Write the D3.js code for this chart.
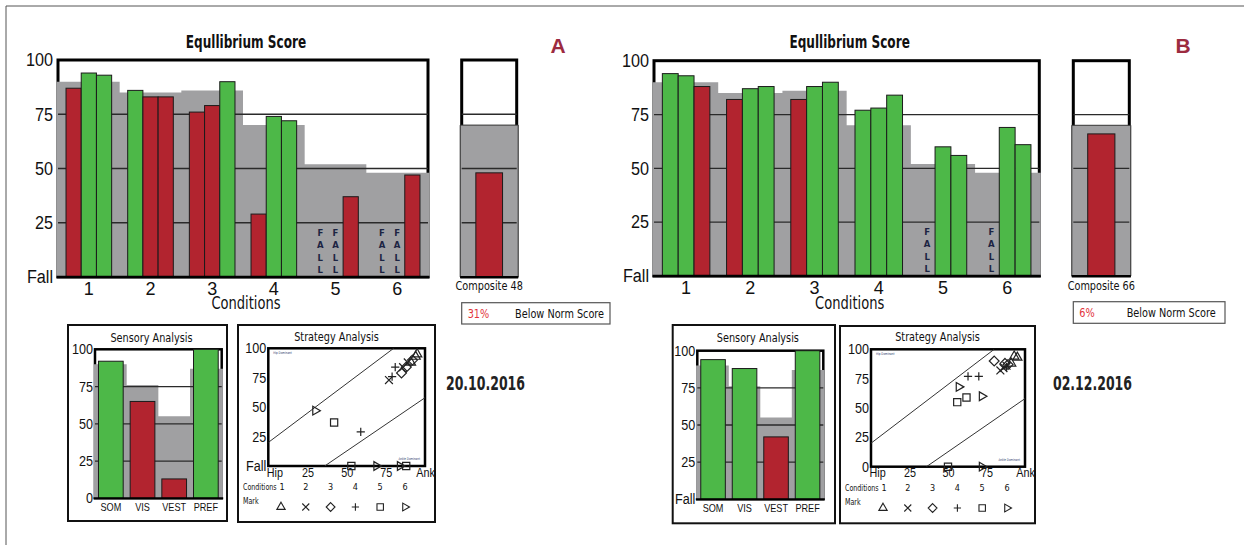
<!DOCTYPE html>
<html lang="en">
<head>
<meta charset="UTF-8">
<title>Equilibrium Score</title>
<script src="https://cdn.jsdelivr.net/npm/d3@7"></script>
<style>
  body { margin: 0; background: #fff; }
  svg { font-family: "Liberation Sans Narrow", "Arial Narrow", "DejaVu Sans Condensed", sans-serif; }
</style>
</head>
<body>
<script>
// ---- data ----
const conditions = [1, 2, 3, 4, 5, 6]
const trialIds = [0, 1, 2]
const eqNorm = [90, 85, 86, 70, 52, 48]
const eqA = [[87, 94, 93], [86, 83, 83], [76, 79, 90], [29, 74, 72], [null, null, 37], [null, null, 47]]
const eqB = [[94, 93, 88], [82, 87, 88], [82, 88, 90], [77, 78, 84], [null, 60, 56], [null, 69, 61]]
const compNorm = 70
const compA = 48
const compB = 66
const belowA = "31%"
const belowB = "6%"
const sensCats = ["SOM", "VIS", "VEST", "PREF"]
const sensNorm = [90, 76, 55, 87]
const sensA = [92, 65, 13, 100]
const sensB = [94, 88, 42, 100]
const scoreTicks = [0, 25, 50, 75, 100]
const gridTicks = [25, 50, 75]
const eqTickLabels = ["Fall", "25", "50", "75", "100"]
const sensLabelsA = ["0", "25", "50", "75", "100"]
const sensLabelsB = ["Fall", "25", "50", "75", "100"]
const stratLabelsA = ["Fall", "25", "50", "75", "100"]
const stratLabelsB = ["0", "25", "50", "75", "100"]
const stratXLabels = ["Hip", "25", "50", "75", "Ank"]
const hipLine = [[0, 20], [80, 100]]
const ankleLine = [[36, 0], [100, 58]]
// [strategy score, equilibrium score] per trial, one row per condition; falls sit on 0
const stratA = [
  [[91, 88], [95, 95], [94, 93]],
  [[77, 73], [89, 88], [86, 84]],
  [[85, 79], [88, 84], [92, 90]],
  [[59, 29], [79, 76], [81, 84]],
  [[53, 0], [88, 0], [42, 37]],
  [[69, 0], [84, 0], [30, 47]]
]
const stratB = [
  [[93, 94], [95, 93], [91, 88]],
  [[84, 82], [86, 84], [88, 86]],
  [[80, 90], [87, 88], [89, 87]],
  [[63, 77], [70, 77], [88, 85]],
  [[50, 0], [62, 59], [56, 55]],
  [[72, 0], [57, 68], [72, 60]]
]

// ---- layout ----
const panels = [
  {
    letter: "A", date: "20.10.2016", eq: eqA, comp: compA, below: belowA,
    sens: sensA, sensLabels: sensLabelsA, strat: stratA, stratLabels: stratLabelsA,
    main: {x0: 58, x1: 428, top: 60, bottom: 277},
    composite: {x0: 461.7, x1: 516.7},
    note: [461.7, 302.7, 148.3, 21.3],
    letterPos: [558, 53], datePos: [446, 390],
    sensBox: [68, 325, 159, 196], sensPlot: {x0: 95, x1: 221.7, top: 349.3, bottom: 498.3},
    stratBox: [238, 325, 197, 197], stratPlot: {x0: 268.3, x1: 425, top: 348.3, bottom: 466}
  },
  {
    letter: "B", date: "02.12.2016", eq: eqB, comp: compB, below: belowB,
    sens: sensB, sensLabels: sensLabelsB, strat: stratB, stratLabels: stratLabelsB,
    main: {x0: 654, x1: 1039.3, top: 60.7, bottom: 276},
    composite: {x0: 1073.3, x1: 1129.3},
    note: [1073.3, 301.7, 151.7, 21.6],
    letterPos: [1183, 53], datePos: [1053, 390],
    sensBox: [672.7, 325, 162.3, 198.3], sensPlot: {x0: 697.3, x1: 823.3, top: 350.7, bottom: 499.3},
    stratBox: [840, 326, 195, 197.3], stratPlot: {x0: 871, x1: 1025, top: 349.3, bottom: 466.7}
  }
]

const RED = "#b2242f", GREEN = "#4db848", GRAY = "#a0a0a2", INK = "#1b1b1b", MAROON = "#9c2b3f"

const svg = d3.select("body").append("svg")
  .attr("width", 1244).attr("height", 545)

svg.append("path").attr("d", "M6,545V6H1244")
  .attr("fill", "none").attr("stroke", "#555").attr("stroke-width", 1)

const colorFor = (v, norm) => v >= norm ? GREEN : RED

// white frame + stepped grey norm band + grid lines
function normChart(g, x, y, cats, norms, frameW, grayStroke) {
  const [xa, xb] = x.range()
  const gap = (x.step() - x.bandwidth()) / 2
  const n = cats.length
  g.append("rect")
    .attr("x", xa).attr("y", y(100))
    .attr("width", xb - xa).attr("height", y(0) - y(100))
    .attr("fill", "#fff").attr("stroke", "#000").attr("stroke-width", frameW)
  const pts = cats.map((c, i) => [i === 0 ? xa - frameW / 2 : x(c) - gap, norms[i]])
  pts.push([xb + frameW / 2, norms[n - 1]])
  const area = d3.area().curve(d3.curveStepAfter)
    .x(d => d[0]).y0(y(0)).y1(d => y(d[1]))
  g.append("path").attr("d", area(pts))
    .attr("fill", GRAY)
    .attr("stroke", grayStroke ? "#333" : "none").attr("stroke-width", 1)
  g.append("g").selectAll("line").data(gridTicks).join("line")
    .attr("x1", xa).attr("x2", xb)
    .attr("y1", d => y(d)).attr("y2", d => y(d))
    .attr("stroke", "#2a2a2a").attr("stroke-width", 1.3)
}

function baseline(g, x, y, w) {
  const [xa, xb] = x.range()
  g.append("line").attr("x1", xa - 1.5).attr("x2", xb + 1.5)
    .attr("y1", y(0)).attr("y2", y(0))
    .attr("stroke", "#000").attr("stroke-width", w)
}

function leftLabels(g, y, labels, size, pad) {
  g.append("g").call(d3.axisLeft(y).tickValues(scoreTicks).tickFormat((d, i) => labels[i]).tickSize(0).tickPadding(pad))
    .call(a => a.select(".domain").remove())
    .selectAll("text").attr("font-size", size).attr("fill", "#111").style("font-family", "inherit")
    .attr("data-sq", 0.9)
}

// marks per condition: triangle, times, diamond, plus, square, right triangle
const shapes = [d3.symbolTriangle2, d3.symbolTimes, d3.symbolDiamond2, d3.symbolPlus, d3.symbolSquare2, d3.symbolTriangle2]
const shapeSize = [62, 42, 62, 24, 66, 55]
const turn = k => k === 5 ? " rotate(90)" : ""

function drawPanel(P) {
  const g = svg.append("g")

  // ---- Equilibrium score ----
  const M = P.main
  const x = d3.scaleBand().domain(conditions).range([M.x0, M.x1]).paddingInner(0.26).paddingOuter(0.13)
  const t = d3.scaleBand().domain(trialIds).range([0, x.bandwidth()])
  const y = d3.scaleLinear().domain([0, 100]).range([M.bottom, M.top])
  const gm = g.append("g")
  normChart(gm, x, y, conditions, eqNorm, 3, false)

  const trials = conditions.flatMap((c, i) => trialIds.map(j => ({c, j, v: P.eq[i][j], norm: eqNorm[i]})))
  gm.append("g").selectAll("rect").data(trials.filter(d => d.v != null)).join("rect")
    .attr("x", d => x(d.c) + t(d.j)).attr("width", t.bandwidth())
    .attr("y", d => y(d.v)).attr("height", d => y(0) - y(d.v))
    .attr("fill", d => colorFor(d.v, d.norm)).attr("stroke", INK).attr("stroke-width", 1)

  const falls = gm.append("g").selectAll("text").data(trials.filter(d => d.v == null)).join("text")
    .attr("x", d => x(d.c) + t(d.j) + t.bandwidth() / 2)
    .attr("text-anchor", "middle")
    .attr("font-family", "DejaVu Sans, sans-serif").attr("font-weight", "bold")
    .attr("font-size", 8.5).attr("fill", "#1c2442")
  falls.selectAll("tspan").data(["F", "A", "L", "L"]).join("tspan")
    .attr("x", function() { return d3.select(this.parentNode).attr("x") })
    .attr("y", (d, k) => y(0) - 41 + k * 12.4)
    .text(d => d)

  baseline(gm, x, y, 2.5)
  leftLabels(gm.append("g").attr("transform", `translate(${M.x0},0)`), y, eqTickLabels, 18, 5)
  gm.append("g").attr("transform", `translate(0,${y(0)})`)
    .call(d3.axisBottom(x).tickSize(0).tickPadding(5))
    .call(a => a.select(".domain").remove())
    .selectAll("text").attr("font-size", 18).attr("fill", "#111").style("font-family", "inherit")
    .attr("data-sq", 1)
  gm.append("text").attr("x", (M.x0 + M.x1) / 2 + 3).attr("y", 309)
    .attr("text-anchor", "middle").attr("font-size", 17.5).attr("fill", "#111").text("Conditions")
  gm.append("text").attr("x", (M.x0 + M.x1) / 2 + 3).attr("y", 47.5)
    .attr("text-anchor", "middle").attr("font-size", 17).attr("font-weight", "bold").attr("fill", "#111")
    .attr("data-sq", 0.79)
    .text("Equllibrium Score")

  // ---- Composite ----
  const C = P.composite
  const xc = d3.scaleBand().domain(["Composite"]).range([C.x0, C.x1]).paddingOuter(0.53)
  const gc = g.append("g")
  normChart(gc, xc, y, ["Composite"], [compNorm], 3, true)
  gc.append("rect").datum(P.comp)
    .attr("x", xc("Composite")).attr("width", xc.bandwidth())
    .attr("y", d => y(d)).attr("height", d => y(0) - y(d))
    .attr("fill", d => colorFor(d, compNorm)).attr("stroke", INK).attr("stroke-width", 1)
  baseline(gc, xc, y, 2)
  gc.append("text").attr("x", (C.x0 + C.x1) / 2).attr("y", 290)
    .attr("text-anchor", "middle").attr("font-size", 13).attr("fill", "#111")
    .text(`Composite ${P.comp}`)
  const [nx, ny, nw, nh] = P.note
  gc.append("rect").attr("x", nx).attr("y", ny).attr("width", nw).attr("height", nh)
    .attr("fill", "#fff").attr("stroke", "#555").attr("stroke-width", 1.2)
  gc.append("text").attr("x", nx + 6).attr("y", ny + 15.5).attr("font-size", 13).attr("fill", "#e2333b").text(P.below)
  gc.append("text").attr("x", nx + 53.4).attr("y", ny + 15.5).attr("font-size", 13).attr("fill", "#111").text("Below Norm Score")

  g.append("text").attr("x", P.letterPos[0]).attr("y", P.letterPos[1])
    .attr("text-anchor", "middle").attr("font-family", "Liberation Sans, Arial, sans-serif")
    .attr("font-size", 21).attr("font-weight", "bold").attr("fill", MAROON)
    .attr("data-sq", 1).text(P.letter)

  // ---- Sensory analysis ----
  const S = P.sensPlot
  const [sx, sy, sw, sh] = P.sensBox
  const gs = g.append("g")
  gs.append("rect").attr("x", sx).attr("y", sy).attr("width", sw).attr("height", sh)
    .attr("fill", "#fff").attr("stroke", "#111").attr("stroke-width", 2)
  gs.append("text").attr("x", sx + sw / 2 + 4).attr("y", 341.7)
    .attr("text-anchor", "middle").attr("font-size", 13).attr("fill", "#111").text("Sensory Analysis")
  const xs = d3.scaleBand().domain(sensCats).range([S.x0, S.x1]).paddingInner(0.22).paddingOuter(0.11)
  const ys = d3.scaleLinear().domain([0, 100]).range([S.bottom, S.top])
  normChart(gs, xs, ys, sensCats, sensNorm, 2.5, false)
  gs.append("g").selectAll("rect").data(sensCats).join("rect")
    .attr("x", d => xs(d)).attr("width", xs.bandwidth())
    .attr("y", (d, i) => ys(P.sens[i])).attr("height", (d, i) => ys(0) - ys(P.sens[i]))
    .attr("fill", (d, i) => colorFor(P.sens[i], sensNorm[i])).attr("stroke", INK).attr("stroke-width", 1)
  baseline(gs, xs, ys, 2)
  leftLabels(gs.append("g").attr("transform", `translate(${S.x0},0)`), ys, P.sensLabels, 14, 2)
  gs.append("g").attr("transform", `translate(0,${ys(0)})`)
    .call(d3.axisBottom(xs).tickSize(0).tickPadding(5))
    .call(a => a.select(".domain").remove())
    .selectAll("text").attr("font-size", 11).attr("fill", "#111").style("font-family", "inherit")

  // ---- Strategy analysis ----
  const T = P.stratPlot
  const [bx, by, bw, bh] = P.stratBox
  const gt = g.append("g")
  gt.append("rect").attr("x", bx).attr("y", by).attr("width", bw).attr("height", bh)
    .attr("fill", "#fff").attr("stroke", "#111").attr("stroke-width", 2)
  gt.append("text").attr("x", bx + bw / 2).attr("y", 340.5)
    .attr("text-anchor", "middle").attr("font-size", 13).attr("fill", "#111").text("Strategy Analysis")
  const xt = d3.scaleLinear().domain([0, 100]).range([T.x0, T.x1])
  const yt = d3.scaleLinear().domain([0, 100]).range([T.bottom, T.top])
  const clipId = "clip" + P.letter
  gt.append("clipPath").attr("id", clipId).append("rect")
    .attr("x", T.x0).attr("y", T.top).attr("width", T.x1 - T.x0).attr("height", T.bottom - T.top)
  gt.append("rect").attr("x", T.x0).attr("y", T.top).attr("width", T.x1 - T.x0).attr("height", T.bottom - T.top)
    .attr("fill", "#fff").attr("stroke", "#000").attr("stroke-width", 2.5)
  const line = d3.line().x(d => xt(d[0])).y(d => yt(d[1]))
  gt.append("g").attr("clip-path", `url(#${clipId})`).selectAll("path").data([hipLine, ankleLine]).join("path")
    .attr("d", line).attr("fill", "none").attr("stroke", "#333").attr("stroke-width", 1)
  gt.append("text").attr("x", T.x0 + 5).attr("y", T.top + 6).attr("font-size", 3.6).attr("fill", "#2a3a6a").text("Hip Dominant")
  gt.append("text").attr("x", T.x1 - 5).attr("y", T.bottom - 6).attr("text-anchor", "end").attr("font-size", 3.6).attr("fill", "#2a3a6a").text("Ankle Dominant")

  leftLabels(gt.append("g").attr("transform", `translate(${T.x0},0)`), yt, P.stratLabels, 14, 2)
  gt.append("g").attr("transform", `translate(0,${T.bottom})`)
    .call(d3.axisBottom(xt).tickValues(scoreTicks).tickFormat((d, i) => stratXLabels[i]).tickSize(0).tickPadding(1.5))
    .call(a => a.select(".domain").remove())
    .selectAll("text").attr("font-size", 13).attr("fill", "#111").style("font-family", "inherit")
    .attr("text-anchor", (d, i) => i === 0 ? "start" : "middle")
    .attr("dx", (d, i) => i === 0 ? -2 : 0)

  const marks = conditions.flatMap((c, i) => P.strat[i].map(p => ({k: i, p})))
  gt.append("g").selectAll("path").data(marks).join("path")
    .attr("transform", d => `translate(${xt(d.p[0])},${yt(d.p[1])})${turn(d.k)}`)
    .attr("d", d => d3.symbol(shapes[d.k], shapeSize[d.k])())
    .attr("fill", "none").attr("stroke", "#222").attr("stroke-width", 1.2)

  // legend
  const xl = d3.scalePoint().domain(conditions).range([bx + 43, bx + 43 + 5 * 24.8])
  gt.append("text").attr("x", bx + 5).attr("y", by + 165).attr("font-size", 8.5).attr("fill", "#111").text("Conditions")
  gt.append("g").selectAll("text").data(conditions).join("text")
    .attr("x", d => xl(d) + (d === 1 ? 1 : 0)).attr("y", by + 165).attr("text-anchor", "middle")
    .attr("font-size", 9).attr("fill", "#111").attr("data-sq", 1).text(d => d)
  gt.append("text").attr("x", bx + 5).attr("y", by + 179).attr("font-size", 8.5).attr("fill", "#111").text("Mark")
  gt.append("g").selectAll("path").data(conditions).join("path")
    .attr("transform", (d, i) => `translate(${xl(d)},${by + 182})${turn(i)}`)
    .attr("d", (d, i) => d3.symbol(shapes[i], shapeSize[i] * 0.8)())
    .attr("fill", "none").attr("stroke", "#222").attr("stroke-width", 1.1)

  // date
  g.append("text").attr("x", P.datePos[0]).attr("y", P.datePos[1])
    .attr("font-size", 19).attr("font-weight", "bold").attr("fill", "#222")
    .attr("data-sq", 0.73).text(P.date)
}

panels.forEach(drawPanel)

// no condensed face is installed: narrow the glyphs of each label instead
svg.selectAll("text").each(function() {
  if (this.querySelector("tspan")) return
  const f = +(this.getAttribute("data-sq") || 0.83)
  if (f === 1) return
  const w = this.getComputedTextLength()
  if (w > 0) d3.select(this).attr("textLength", w * f).attr("lengthAdjust", "spacingAndGlyphs")
})
</script>
</body>
</html>
